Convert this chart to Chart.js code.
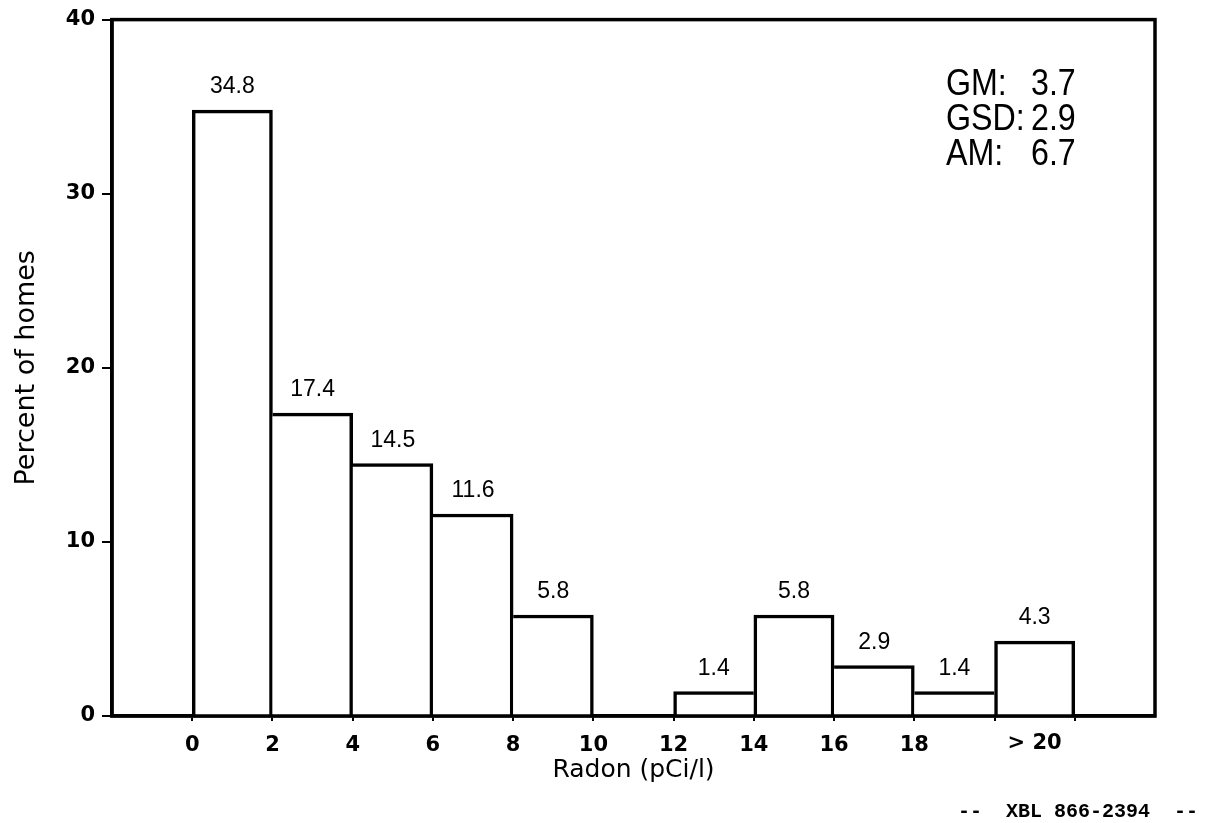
<!DOCTYPE html>
<html>
<head>
<meta charset="utf-8">
<title>Radon distribution</title>
<script src="https://cdn.jsdelivr.net/npm/chart.js@4.4.1/dist/chart.umd.min.js"></script>
<style>
  html, body { margin: 0; padding: 0; background: #fff; }
  #wrap { width: 1207px; height: 823px; }
</style>
</head>
<body>
<div id="wrap"><canvas id="radonChart" width="1207" height="823"></canvas></div>
<script>
// --- data ---
// bins are 2 pCi/l wide, the last one is the open "> 20" bin
const binCenters = [1, 3, 5, 7, 9, 11, 13, 15, 17, 19, 21];
const percentHomes = [34.8, 17.4, 14.5, 11.6, 5.8, 0, 1.4, 5.8, 2.9, 1.4, 4.3];
const xTickValues = [0, 2, 4, 6, 8, 10, 12, 14, 16, 18, 20, 22];
const xLabelledTicks = [0, 2, 4, 6, 8, 10, 12, 14, 16, 18];
const overflowAt = 21;
const overflowLabel = "> 20";
const yTickValues = [0, 10, 20, 30, 40];
const statNames = ["GM:", "GSD:", "AM:"];
const statValues = ["3.7", "2.9", "6.7"];
const footerText = "--  XBL 866-2394  --";

const tickFont = { family: "DejaVu Sans", weight: "bold", size: 21 };

// draw a bar's side only where it is the taller of the two neighbours
function sideWidths(ctx) {
  const i = ctx.dataIndex;
  const v = percentHomes[i];
  const prev = i > 0 ? percentHomes[i - 1] : -1;
  const next = i < percentHomes.length - 1 ? percentHomes[i + 1] : -1;
  return {
    top: 3.5,
    bottom: 0,
    left: v > prev ? 3.5 : 0,
    right: v >= next ? 3.5 : 0
  };
}

function squeezed(ctx, text, x, y, sx) {
  ctx.save();
  ctx.translate(x, y);
  ctx.scale(sx, 1);
  ctx.fillText(text, 0, 0);
  ctx.restore();
}

const annotate = {
  id: "annotate",
  afterDatasetsDraw(chart) {
    const ctx = chart.ctx;
    const area = chart.chartArea;
    const xScale = chart.scales.x;
    ctx.save();

    // plot frame
    ctx.strokeStyle = "#000";
    ctx.lineWidth = 3.5;
    ctx.strokeRect(area.left, area.top, area.right - area.left, area.bottom - area.top);

    // values above bars
    ctx.fillStyle = "#000";
    ctx.font = '23px "Liberation Sans", Arial, sans-serif';
    ctx.textAlign = "center";
    ctx.textBaseline = "alphabetic";
    chart.getDatasetMeta(0).data.forEach((bar, i) => {
      if (!percentHomes[i]) return;
      ctx.fillText(percentHomes[i].toFixed(1), bar.x, bar.y - 17);
    });

    // "> 20" sits under the middle of the last bin, not on a tick
    ctx.font = "bold 21px \"DejaVu Sans\"";
    ctx.textBaseline = "top";
    ctx.fillText(overflowLabel, xScale.getPixelForValue(overflowAt), xScale.top + 17);

    // summary statistics
    ctx.font = '37px "Liberation Sans", Arial, sans-serif';
    ctx.textAlign = "left";
    ctx.textBaseline = "alphabetic";
    statNames.forEach((name, i) => {
      const y = 95 + i * 35;
      squeezed(ctx, name, 946, y, 0.87);
      squeezed(ctx, statValues[i], 1031, y, 0.87);
    });

    // drawing number at the bottom right
    ctx.font = 'bold 20px "Liberation Mono", monospace';
    ctx.fillText(footerText, 958, 817);

    ctx.restore();
  }
};

new Chart(document.getElementById("radonChart"), {
  type: "bar",
  data: {
    datasets: [{
      data: binCenters.map((x, i) => ({ x: x, y: percentHomes[i] })),
      backgroundColor: "#fff",
      borderColor: "#000",
      borderWidth: sideWidths,
      borderSkipped: false,
      barPercentage: 1,
      categoryPercentage: 1
    }]
  },
  options: {
    responsive: false,
    animation: false,
    devicePixelRatio: 1,
    layout: { padding: { top: 19, right: 52, bottom: 0, left: 0 } },
    plugins: { legend: { display: false }, tooltip: { enabled: false } },
    scales: {
      x: {
        type: "linear",
        min: -2,
        max: 24,
        offset: false,
        afterBuildTicks: scale => {
          scale.ticks = xTickValues.map(v => ({ value: v }));
        },
        afterFit: scale => { scale.height = 107; },
        ticks: {
          autoSkip: false,
          maxRotation: 0,
          padding: 12,
          color: "#000",
          font: tickFont,
          callback: v => (xLabelledTicks.includes(v) ? String(v) : "")
        },
        grid: {
          offset: false,
          drawOnChartArea: false,
          tickLength: 5,
          lineWidth: 2,
          color: "#000"
        },
        border: { color: "#000", width: 3.5 },
        title: {
          display: true,
          text: "Radon (pCi/l)",
          color: "#000",
          font: { family: "DejaVu Sans", size: 25 },
          padding: { top: 0, bottom: 38 }
        }
      },
      y: {
        min: 0,
        max: 40,
        afterBuildTicks: scale => {
          scale.ticks = yTickValues.map(v => ({ value: v }));
        },
        afterFit: scale => { scale.width = 112; },
        ticks: {
          padding: 7,
          color: "#000",
          font: tickFont
        },
        grid: {
          drawOnChartArea: false,
          tickLength: 10,
          lineWidth: 2,
          color: "#000"
        },
        border: { color: "#000", width: 3.5 },
        title: {
          display: true,
          text: "Percent of homes",
          color: "#000",
          font: { family: "DejaVu Sans", size: 27 },
          padding: { top: 11, bottom: 0 }
        }
      }
    }
  },
  plugins: [annotate]
});
</script>
</body>
</html>
